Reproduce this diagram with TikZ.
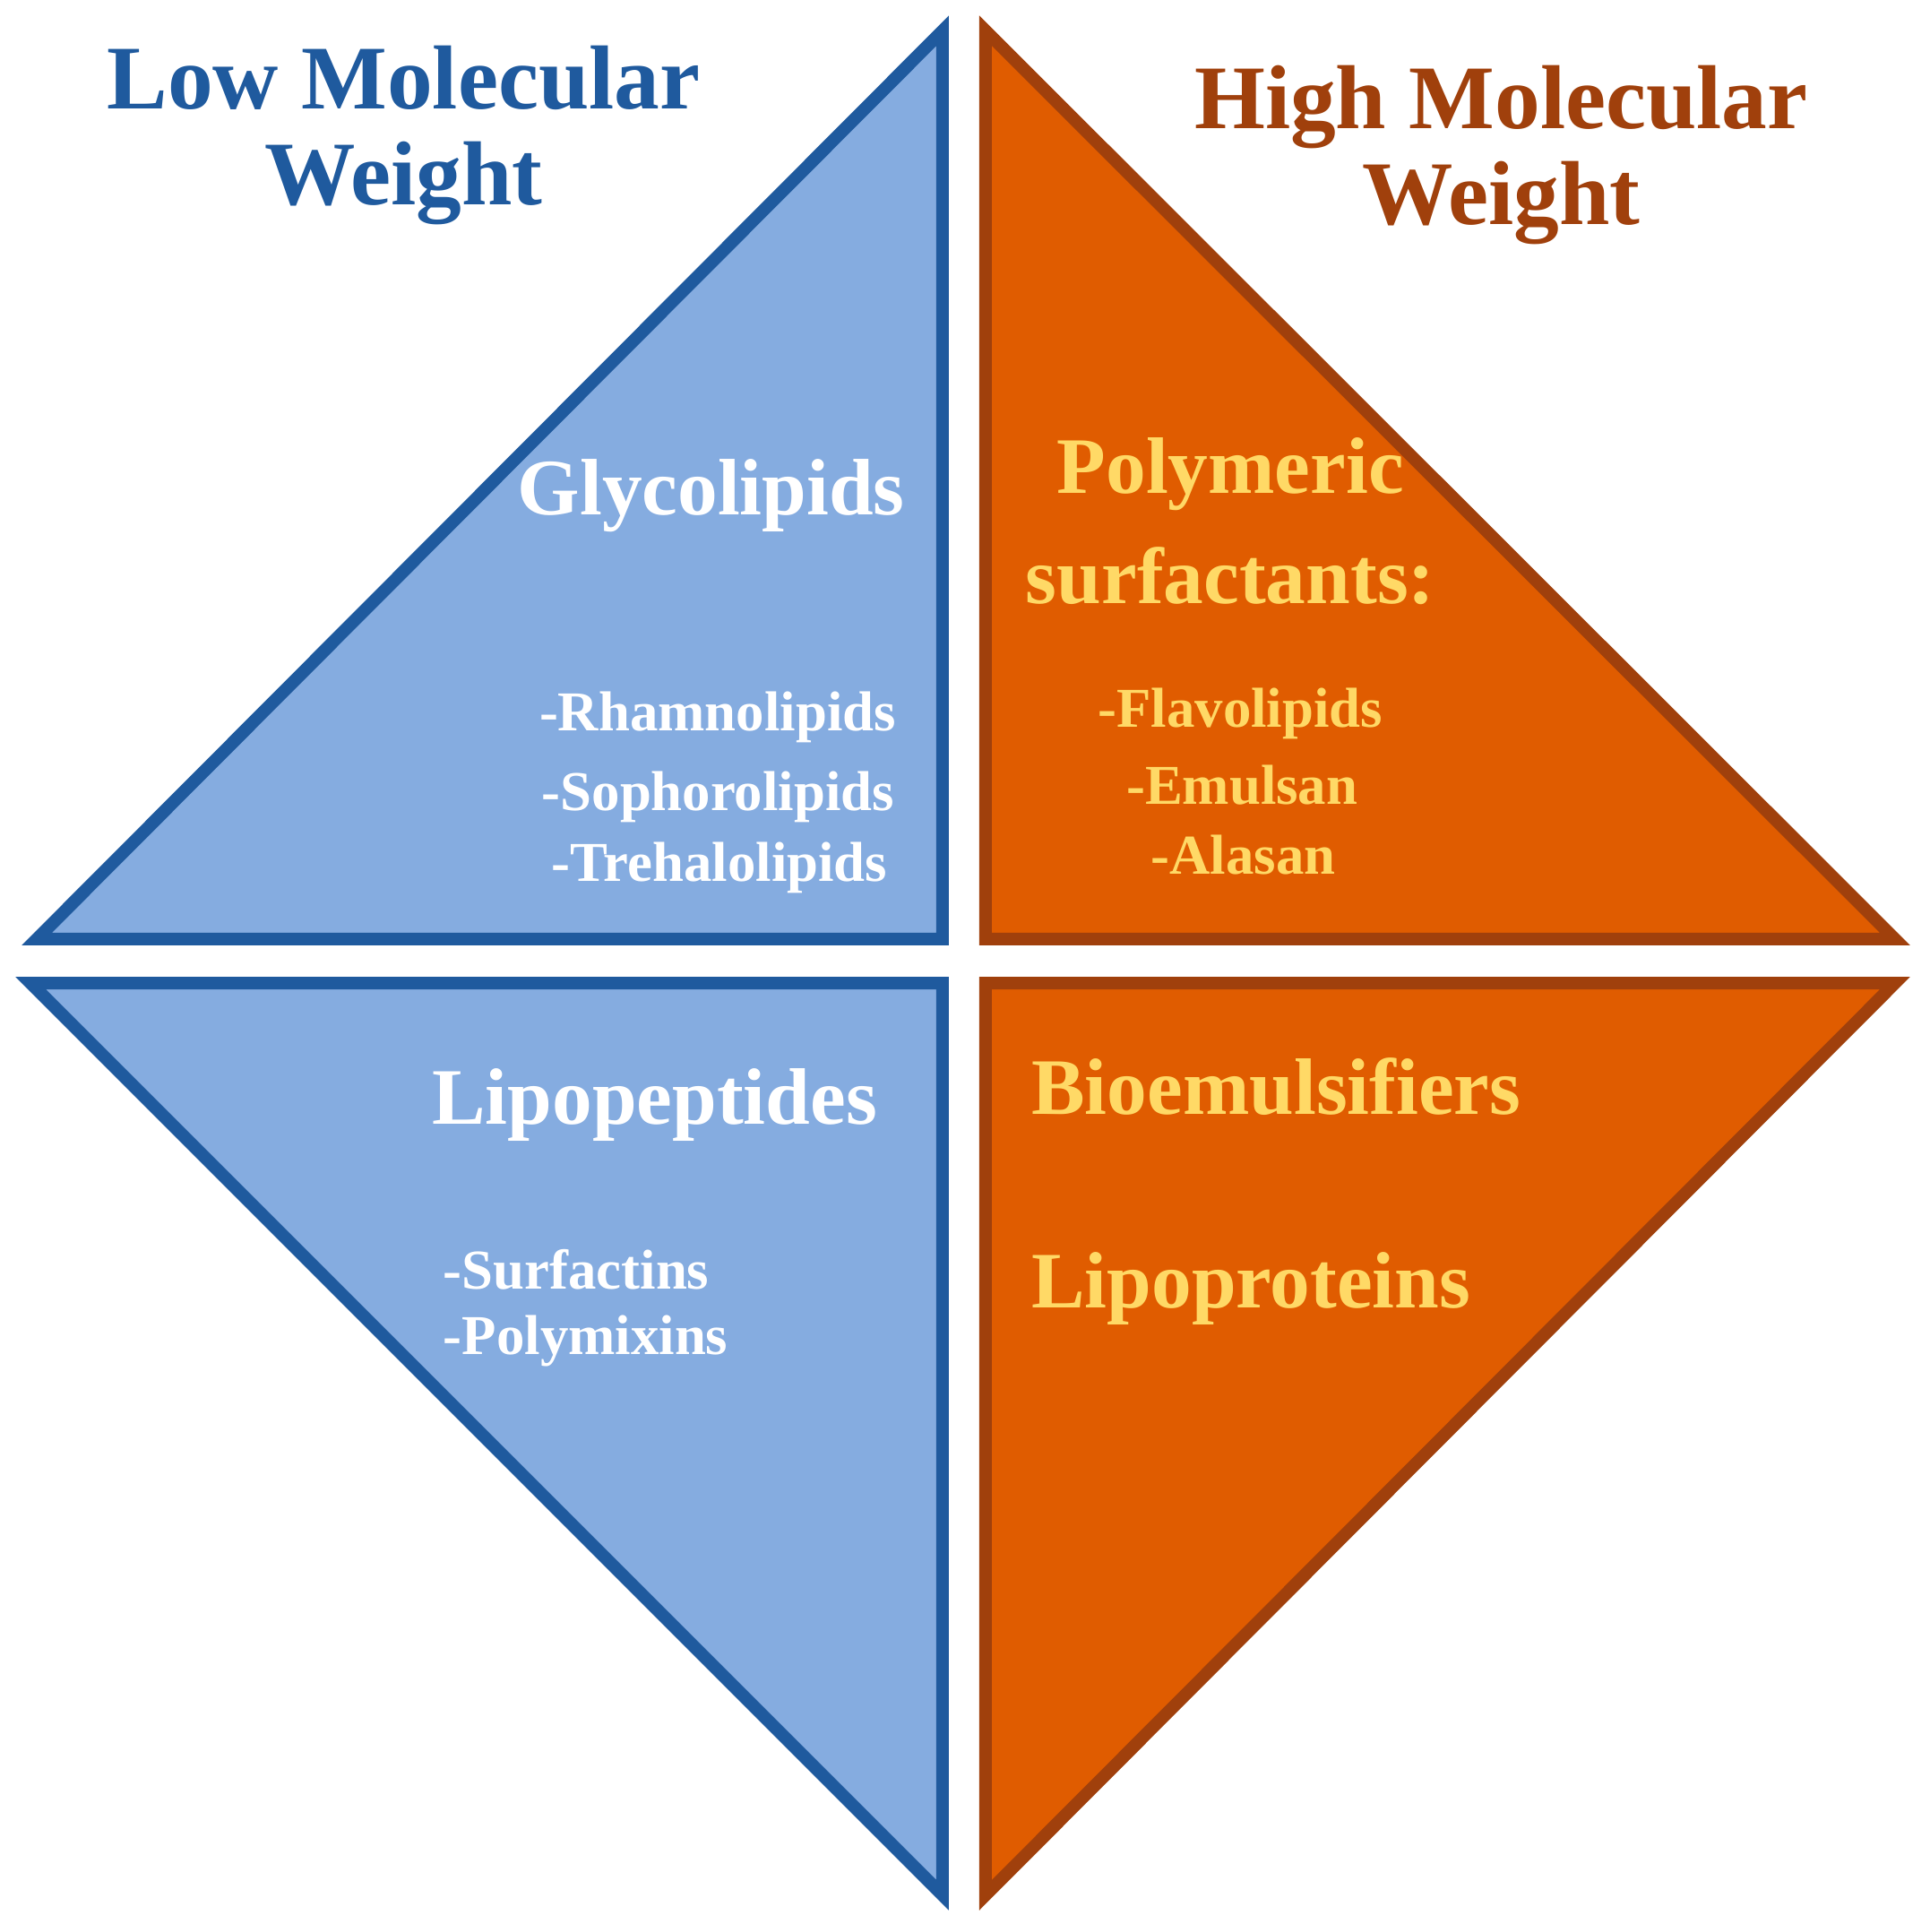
\documentclass[tikz,border=0pt]{standalone}
\usepackage{fontspec}
\setmainfont{Liberation Serif}
\definecolor{bfill}{HTML}{85ACE0}
\definecolor{bline}{HTML}{1F5A9E}
\definecolor{ofill}{HTML}{E05C00}
\definecolor{oline}{HTML}{A0400C}
\definecolor{ytext}{HTML}{FFD966}
\begin{document}
\begin{tikzpicture}[x=0.01cm,y=-0.01cm,
  btri/.style={fill=bfill,draw=bline,line width=2.9pt,line join=miter},
  otri/.style={fill=ofill,draw=oline,line width=2.9pt,line join=miter},
  ttl/.style={font=\bfseries\fontsize{21}{22}\selectfont,align=center},
  big/.style={font=\bfseries\fontsize{18.5}{20}\selectfont},
  sm/.style={font=\bfseries\fontsize{13}{14}\selectfont,anchor=west}]
\useasboundingbox (0,0) rectangle (1568,1570);
\draw[btri] (30,763) -- (766,763) -- (766,25) -- cycle;
\draw[otri] (801,25) -- (801,763) -- (1540,763) -- cycle;
\draw[btri] (25,799) -- (766,799) -- (766,1540) -- cycle;
\draw[otri] (801,799) -- (1540,799) -- (801,1540) -- cycle;
\node[ttl,text=bline] (t1) at (328,110) {Low Molecular\\Weight};
\node[ttl,text=oline] (t2) at (1220,126) {High Molecular\\Weight};
\node[big,text=white] (g) at (578,403) {Glycolipids};
\node[sm,text=white] (g1) at (426,583) {-Rhamnolipids};
\node[sm,text=white] (g2) at (428,648) {-Sophorolipids};
\node[sm,text=white] (g3) at (436,705) {-Trehalolipids};
\node[big,text=ytext] (p1) at (1000,385) {Polymeric};
\node[big,text=ytext] (p2) at (1000,468) {surfactants:};
\node[sm,text=ytext] (f1) at (880,580) {-Flavolipids};
\node[sm,text=ytext] (f2) at (903,638) {-Emulsan};
\node[sm,text=ytext] (f3) at (923,695) {-Alasan};
\node[big,text=white] (l) at (532,898) {Lipopeptides};
\node[sm,text=white] (l1) at (348,1032) {-Surfactins};
\node[sm,text=white] (l2) at (348,1090) {-Polymixins};
\node[big,text=ytext,anchor=west] (b) at (826,883) {Bioemulsifiers};
\node[big,text=ytext,anchor=west] (lp) at (826,1047) {Lipoproteins};
\end{tikzpicture}
\end{document}
